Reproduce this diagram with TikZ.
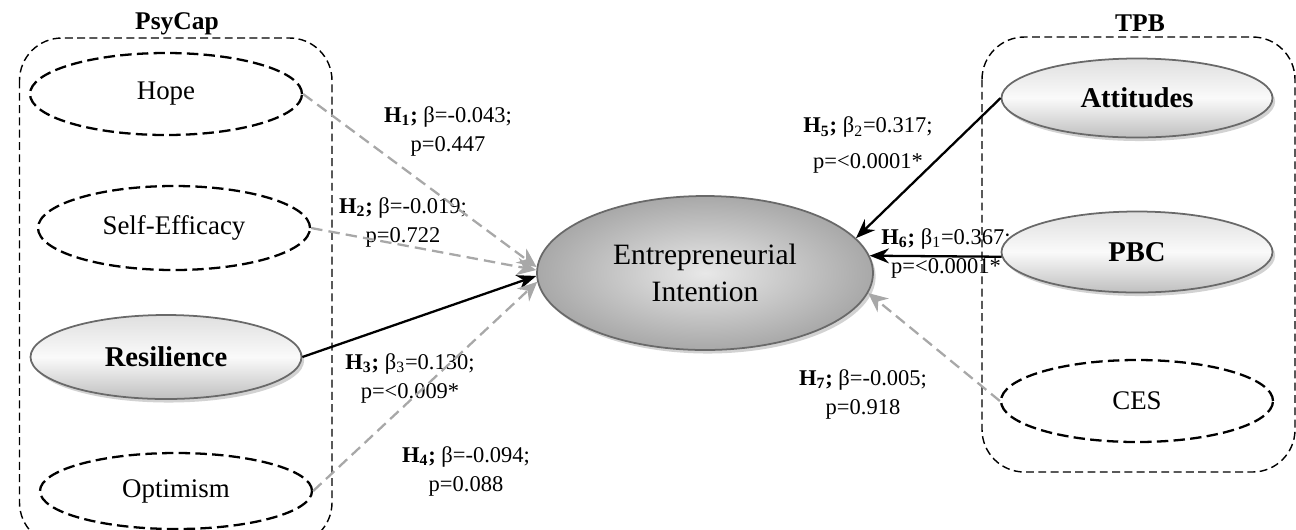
\documentclass[tikz,border=0pt]{standalone}
\usepackage{fontspec}
\setmainfont{Liberation Serif}
\usepackage{tikz}
\usetikzlibrary{arrows.meta,shapes.geometric,shadows}
\definecolor{mycolor1}{RGB}{105,105,105}
\definecolor{mycolor2}{RGB}{168,168,168}
\definecolor{mycolor3}{RGB}{205,205,205}

\begin{document}
\begin{tikzpicture}[font=\fontsize{15.3}{18}\selectfont,
  dashell/.style={ellipse, draw, line width=1.3pt, dash pattern=on 6.5pt off 3pt,
    minimum width=5.44cm, minimum height=1.64cm},
  shadell/.style={ellipse, draw=mycolor1, line width=1pt,
    top color=gray!25, bottom color=gray!50, middle color=gray!4,
    drop shadow={shadow xshift=1.5pt, shadow yshift=-2pt, fill=mycolor3, opacity=0.9},
    minimum width=5.42cm, minimum height=1.62cm, font=\fontsize{16.3}{19}\selectfont\bfseries},
  groupbox/.style={draw, line width=0.8pt, dash pattern=on 4.5pt off 2.5pt, rounded corners=0.85cm},
  hyplabel/.style={align=center, font=\fontsize{12.8}{16.5}\selectfont},
  sigarrow/.style={-{Stealth[length=11pt,width=8.5pt]}, line width=1.3pt},
  nsarrow/.style={-{Stealth[length=11pt,width=10pt]}, line width=1.3pt, mycolor2,
    dash pattern=on 6.5pt off 3.5pt}]
  \useasboundingbox (0,0) rectangle (25.92,-10.58);

  \draw[groupbox] (0.39,-0.76) rectangle (6.64,-10.9);
  \draw[groupbox] (19.64,-0.74) rectangle (25.9,-9.44);
  \node (psycap) at (3.54,-0.48) [font=\fontsize{14.5}{17}\selectfont\bfseries]{PsyCap};
  \node (tpb) at (22.8,-0.46) [font=\fontsize{14.5}{17}\selectfont\bfseries]{TPB};

  \node (lab1) at (8.96,-2.62) [hyplabel]{\textbf{H\textsubscript{1};} β=-0.043;\\ p=0.447};
  \node (lab2) at (8.06,-4.45) [hyplabel]{\textbf{H\textsubscript{2};} β=-0.019;\\ p=0.722};
  \node (lab3) at (8.2,-7.56) [hyplabel]{\textbf{H\textsubscript{3};} β\textsubscript{3}=0.130;\\ p=<0.009*};
  \node (lab4) at (9.32,-9.42) [hyplabel]{\textbf{H\textsubscript{4};} β=-0.094;\\ p=0.088};
  \node (lab5) at (17.36,-2.9) [hyplabel]{\textbf{H\textsubscript{5};} β\textsubscript{2}=0.317;\\[3.5pt] p=<0.0001*};
  \node (lab6) at (18.92,-5.06) [hyplabel]{\textbf{H\textsubscript{6};} β\textsubscript{1}=0.367;\\ p=<0.0001*};
  \node (lab7) at (17.26,-7.89) [hyplabel]{\textbf{H\textsubscript{7};} β=-0.005;\\ p=0.918};

  \node (hope) at (3.32,-1.88) [dashell]{Hope};
  \node (selfeff) at (3.48,-4.56) [dashell, minimum height=1.68cm]{Self-Efficacy};
  \node (resil) at (3.32,-7.14) [shadell, minimum height=1.68cm]{Resilience};
  \node (optim) at (3.52,-9.82) [dashell, minimum height=1.52cm]{Optimism};
  \node (att) at (22.74,-1.96) [shadell, minimum height=1.58cm]{Attitudes};
  \node (pbc) at (22.74,-5.04) [shadell]{PBC};
  \node (ces) at (22.74,-8.02) [dashell]{CES};
  \node (ei) at (14.1,-5.46) [ellipse, draw=mycolor1, line width=1pt,
    inner color=gray!18, outer color=gray!68,
    drop shadow={shadow xshift=1.5pt, shadow yshift=-2pt, fill=mycolor3, opacity=0.9},
    minimum width=6.72cm, minimum height=3.08cm, align=center,
    font=\fontsize{16.8}{20.8}\selectfont]{Entrepreneurial\\ Intention};

  \draw[nsarrow] (hope.east) -- (ei.178);
  \draw[nsarrow] (selfeff.east) -- (ei.179);
  \draw[sigarrow] (resil.east) -- (ei.181);
  \draw[nsarrow] (optim.east) -- (ei.183);
  \draw[sigarrow] (att.west) -- (ei.13);
  \draw[sigarrow] (pbc.182) -- (ei.6);
  \draw[nsarrow] (ces.west) -- (ei.353);
\end{tikzpicture}
\end{document}
